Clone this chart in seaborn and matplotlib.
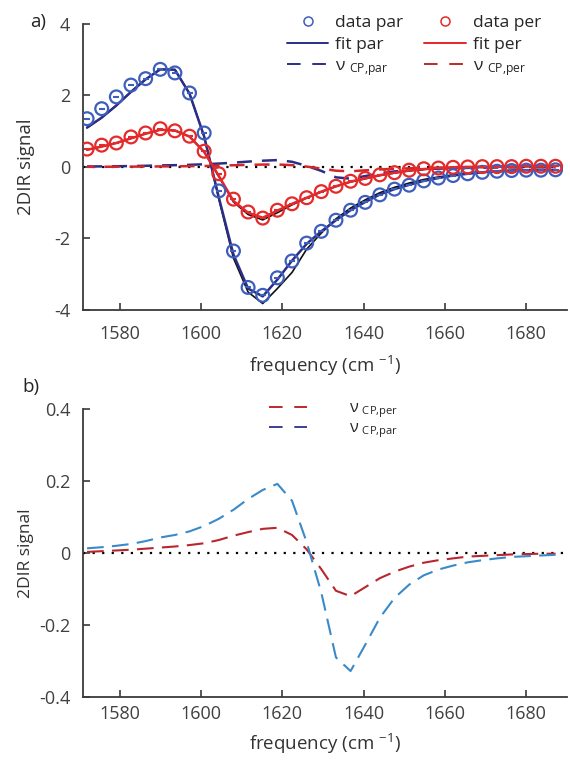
import numpy as np
import pandas as pd
import seaborn as sns
import matplotlib.pyplot as plt
from matplotlib.lines import Line2D

# frequency grid (cm-1)
freq = [1572.0, 1575.6, 1579.2, 1582.8, 1586.4, 1590.0, 1593.6, 1597.2, 1600.8,
        1604.4, 1608.0, 1611.6, 1615.2, 1618.8, 1622.4, 1626.0, 1629.6, 1633.2,
        1636.8, 1640.4, 1644.0, 1647.6, 1651.2, 1654.8, 1658.4, 1662.0, 1665.6,
        1669.2, 1672.8, 1676.4, 1680.0, 1683.6, 1687.2]

par_data = [1.35, 1.63, 1.96, 2.29, 2.47, 2.73, 2.63, 2.07, 0.95,
            -0.67, -2.35, -3.37, -3.59, -3.10, -2.63, -2.13, -1.80, -1.49,
            -1.21, -0.99, -0.78, -0.62, -0.51, -0.39, -0.31, -0.24, -0.19,
            -0.15, -0.12, -0.10, -0.09, -0.09, -0.08]
per_data = [0.50, 0.61, 0.67, 0.84, 0.95, 1.07, 1.01, 0.86, 0.44,
            -0.19, -0.90, -1.26, -1.43, -1.21, -1.03, -0.86, -0.69, -0.54,
            -0.40, -0.32, -0.22, -0.16, -0.09, -0.05, -0.03, -0.01, 0.00,
            0.01, 0.01, 0.01, 0.02, 0.02, 0.02]

par_fit = [1.10, 1.38, 1.72, 2.10, 2.45, 2.73, 2.72, 2.05, 0.85,
           -0.85, -2.45, -3.40, -3.62, -3.15, -2.62, -2.15, -1.80, -1.49,
           -1.21, -0.98, -0.77, -0.62, -0.50, -0.39, -0.31, -0.24, -0.19,
           -0.15, -0.12, -0.10, -0.09, -0.09, -0.08]
per_fit = [0.48, 0.57, 0.67, 0.80, 0.93, 1.04, 1.02, 0.85, 0.42,
           -0.25, -0.95, -1.28, -1.42, -1.22, -1.03, -0.86, -0.69, -0.54,
           -0.41, -0.32, -0.23, -0.16, -0.10, -0.06, -0.03, -0.01, 0.00,
           0.01, 0.01, 0.01, 0.02, 0.02, 0.02]

# second (black) fits
par_fit2 = [1.10, 1.38, 1.72, 2.10, 2.45, 2.73, 2.72, 2.05, 0.85,
            -0.90, -2.55, -3.50, -3.82, -3.40, -2.95, -2.30, -1.85, -1.45,
            -1.15, -0.92, -0.72, -0.57, -0.45, -0.35, -0.28, -0.22, -0.18,
            -0.15, -0.12, -0.10, -0.09, -0.08, -0.08]
per_fit2 = [0.48, 0.57, 0.67, 0.80, 0.93, 1.04, 1.02, 0.85, 0.42,
            -0.27, -0.98, -1.33, -1.48, -1.28, -1.06, -0.87, -0.70, -0.55,
            -0.42, -0.33, -0.24, -0.17, -0.11, -0.07, -0.04, -0.02, -0.01,
            0.00, 0.01, 0.01, 0.01, 0.02, 0.02]

cp_par = [0.013, 0.016, 0.020, 0.025, 0.033, 0.043, 0.050, 0.060, 0.075,
          0.095, 0.120, 0.150, 0.175, 0.192, 0.145, 0.030, -0.110, -0.290,
          -0.328, -0.255, -0.180, -0.125, -0.088, -0.062, -0.046, -0.035, -0.026,
          -0.020, -0.015, -0.011, -0.009, -0.007, -0.005]
cp_per = [0.003, 0.005, 0.007, 0.009, 0.012, 0.015, 0.018, 0.022, 0.027,
          0.036, 0.048, 0.058, 0.067, 0.070, 0.050, 0.010, -0.045, -0.105,
          -0.120, -0.095, -0.070, -0.052, -0.038, -0.027, -0.020, -0.015, -0.010,
          -0.008, -0.006, -0.004, -0.003, -0.002, -0.002]

x_ticks = [1580, 1600, 1620, 1640, 1660, 1680]
ya_ticks = [-4, -2, 0, 2, 4]
ya_labels = ["-4", "-2", "0", "2", "4"]
yb_ticks = [-0.4, -0.2, 0, 0.2, 0.4]
yb_labels = ["-0.4", "-0.2", "0", "0.2", "0.4"]

df = pd.DataFrame({"freq": freq, "par": par_data, "per": per_data,
                   "par_fit": par_fit, "per_fit": per_fit,
                   "par_fit2": par_fit2, "per_fit2": per_fit2,
                   "cp_par": cp_par, "cp_per": cp_per})

sns.set_style("ticks")
plt.rcParams["font.family"] = ["Open Sans", "DejaVu Sans"]
plt.rcParams["mathtext.default"] = "regular"
plt.rcParams["axes.unicode_minus"] = False

blue = "#3d5ebd"
red = "#e42a2a"
navy = "#2a2e86"
red_fit = "#e3262b"
dark = "#3a3a3a"
b_red = "#b8262e"
b_blue = "#3a8ac9"

fig = plt.figure(figsize=(5.7, 7.65), dpi=100)
ax1 = fig.add_axes([0.1456, 0.5948, 0.849, 0.3739])
ax2 = fig.add_axes([0.1456, 0.0889, 0.849, 0.3765])

dots = (0, (1, 3.3))
dash = (0, (6, 4))

# ---- panel a ----
ax1.axhline(0, color="k", ls=dots, lw=1.6, zorder=1)
sns.lineplot(data=df, x="freq", y="cp_par", color=navy, lw=1.8, linestyle=dash, ax=ax1, zorder=2)
sns.lineplot(data=df, x="freq", y="cp_per", color="#d4252b", lw=1.8, linestyle=(3, (6, 4)), ax=ax1, zorder=2)
sns.lineplot(data=df, x="freq", y="par_fit2", color="#111111", lw=1.2, ax=ax1, zorder=2)
sns.lineplot(data=df, x="freq", y="per_fit2", color="#111111", lw=1.2, ax=ax1, zorder=2)
sns.lineplot(data=df, x="freq", y="par_fit", color=navy, lw=1.8, ax=ax1, zorder=3)
sns.lineplot(data=df, x="freq", y="per_fit", color=red_fit, lw=1.8, ax=ax1, zorder=3)
for col, c in [("par", blue), ("per", red)]:
    sns.scatterplot(data=df, x="freq", y=col, marker="o", s=85, facecolors="none",
                    edgecolors=c, linewidths=1.6, ax=ax1, zorder=4)
    sns.scatterplot(data=df, x="freq", y=col, marker="_", s=22, color=c,
                    linewidths=1.5, ax=ax1, zorder=4)

ax1.set_xlim(1571, 1690)
ax1.set_ylim(-4, 4)
ax1.set_xticks(x_ticks)
ax1.set_yticks(ya_ticks, ya_labels)
ax1.set_xlabel("frequency (cm $^{-1}$)", fontsize=13.5, color="#333333", labelpad=8)
ax1.set_ylabel("2DIR signal", fontsize=13.5, color="#333333", labelpad=14)

handles = [
    Line2D([], [], ls="", marker="o", mfc="none", mec=blue, ms=6.5, mew=1.1),
    Line2D([], [], color=navy, lw=1.4),
    Line2D([], [], color=navy, lw=1.4, ls=(0, (7, 6))),
    Line2D([], [], ls="", marker="o", mfc="none", mec=red, ms=6.5, mew=1.1),
    Line2D([], [], color=red_fit, lw=1.4),
    Line2D([], [], color="#c0272d", lw=1.4, ls=(0, (7, 6))),
]
labels = ["data par", "fit par", "ν $_{CP{,}par}$", "data per", "fit per", "ν $_{CP{,}per}$"]
ax1.legend(handles, labels, ncol=2, loc="upper left", bbox_to_anchor=(0.503, 0.980),
           bbox_transform=fig.transFigure, frameon=False, fontsize=12.5,
           handlelength=2.4, handletextpad=0.4, columnspacing=1.2,
           labelspacing=0.3, borderpad=0, borderaxespad=0)

# ---- panel b ----
ax2.axhline(0, color="k", ls=dots, lw=1.6, zorder=1)
sns.lineplot(data=df, x="freq", y="cp_per", color=b_red, lw=1.5, linestyle=(0, (8, 4)), ax=ax2, zorder=2)
sns.lineplot(data=df, x="freq", y="cp_par", color=b_blue, lw=1.5, linestyle=(0, (8, 4)), ax=ax2, zorder=2)
ax2.set_xlim(1571, 1690)
ax2.set_ylim(-0.4, 0.4)
ax2.set_xticks(x_ticks)
ax2.set_yticks(yb_ticks, yb_labels)
ax2.set_xlabel("frequency (cm $^{-1}$)", fontsize=13.5, color="#333333", labelpad=6)
ax2.set_ylabel("2DIR signal", fontsize=12.5, color="#333333", labelpad=4)

hb = [Line2D([], [], color="#c0272d", lw=1.4, ls=(0, (7, 6))),
      Line2D([], [], color="#3b3f8e", lw=1.4, ls=(0, (7, 6)))]
ax2.legend(hb, ["ν $_{CP{,}per}$", "ν $_{CP{,}par}$"], loc="upper left",
           bbox_to_anchor=(0.472, 0.477), bbox_transform=fig.transFigure,
           frameon=False, fontsize=11.5, handlelength=2.4, handletextpad=2.6,
           labelspacing=0.05, borderpad=0, borderaxespad=0)

for ax, pad in [(ax1, 11), (ax2, 6)]:
    sns.despine(ax=ax)
    for s in ["left", "bottom"]:
        ax.spines[s].set_color(dark)
        ax.spines[s].set_linewidth(1.3)
    ax.tick_params(axis="both", direction="in", length=5, width=1.2, color=dark,
                   labelsize=13, labelcolor="#404040")
    ax.tick_params(axis="x", pad=pad)
    ax.tick_params(axis="y", pad=9)

fig.text(0.052, 1 - 22 / 765, "a)", fontsize=13.5, color="#222222", va="center")
fig.text(0.04, 1 - 387 / 765, "b)", fontsize=13.5, color="#222222", va="center")

fig.savefig("out.png", dpi=100)
